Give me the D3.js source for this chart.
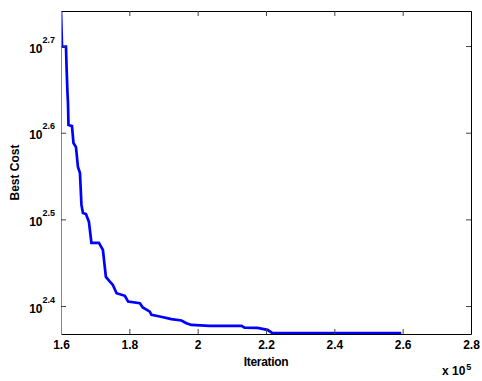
<!DOCTYPE html>
<html>
<head>
<meta charset="utf-8">
<script src="https://cdn.jsdelivr.net/npm/d3@7"></script>
<style>
  html, body { margin: 0; padding: 0; background: #fff; }
  svg { display: block; }
  text { font-family: "Liberation Sans", Arial, Helvetica, sans-serif; font-weight: bold; fill: #000; }
</style>
</head>
<body>
<svg id="chart" width="482" height="381"></svg>
<script>
// Best cost found so far, recorded against the iteration counter
const iterations = [
  160000, 160292, 161460, 161606, 161898, 162044, 162190, 163212, 163650, 164380,
  164964, 165548, 165986, 166423, 167299, 168175, 168905, 171095, 172263, 173139,
  174307, 175183, 176263, 178687, 179650, 183067, 183943, 185987, 186483, 188907,
  192323, 195243, 196703, 198163, 203507, 212850, 213726, 217522, 218982, 220442,
  221902, 259600
];
const bestCost = [
  550.0, 500.5, 500.5, 476.5, 442.4, 430.8, 406.3, 405.2, 387.3, 383.2,
  363.4, 357.7, 328.6, 321.7, 320.8, 314.1, 297.1, 297.1, 291.6, 271.4,
  268.0, 265.7, 259.9, 258.1, 254.2, 253.1, 250.2, 247.5, 245.4, 244.3,
  242.6, 241.7, 240.0, 238.9, 238.3, 238.3, 237.2, 237.0, 236.4, 235.8,
  233.7, 233.7
];

// Axis ranges and tick positions
const xDomain = [160000, 280000];
const yDomain = [233.2, 550.1];
const xTicks = [160000, 180000, 200000, 220000, 240000, 260000, 280000];
const xTickLabels = ["1.6", "1.8", "2", "2.2", "2.4", "2.6", "2.8"];
const yTickExponents = [2.4, 2.5, 2.6, 2.7];
const yTickLabels = ["2.4", "2.5", "2.6", "2.7"];

const xLabel = "Iteration";
const yLabel = "Best Cost";
const xScaleNote = "x 10";
const xScaleExp = "5";

const margin = { top: 11, right: 11, bottom: 47, left: 61 };
const W = 482, H = 381;
const pw = W - margin.left - margin.right;
const ph = H - margin.top - margin.bottom;

const svg = d3.select("#chart");

const x = d3.scaleLinear().domain(xDomain).range([margin.left, margin.left + pw]);
const y = d3.scaleLog().domain(yDomain).range([margin.top + ph, margin.top]);

const yTicks = yTickExponents.map(e => Math.pow(10, e));

// clip region for the curve
svg.append("defs").append("clipPath").attr("id", "plotClip")
  .append("rect")
  .attr("x", margin.left).attr("y", margin.top)
  .attr("width", pw).attr("height", ph);

// Cost curve
const line = d3.line()
  .x((d, i) => x(iterations[i]))
  .y(d => y(d));

svg.append("path")
  .datum(bestCost)
  .attr("clip-path", "url(#plotClip)")
  .attr("fill", "none")
  .attr("stroke", "#0000ff")
  .attr("stroke-width", 2.7)
  .attr("stroke-linejoin", "miter")
  .attr("d", line);

// Axes with inward ticks, mirrored on top and right
const tickLen = 5;

const gBottom = svg.append("g")
  .attr("transform", `translate(0,${margin.top + ph})`)
  .call(d3.axisBottom(x).tickValues(xTicks).tickSizeInner(-tickLen).tickSizeOuter(0)
    .tickPadding(7).tickFormat((d, i) => xTickLabels[i]));

const gTop = svg.append("g")
  .attr("transform", `translate(0,${margin.top})`)
  .call(d3.axisTop(x).tickValues(xTicks).tickSizeInner(-tickLen).tickSizeOuter(0)
    .tickFormat(() => ""));

const gLeft = svg.append("g")
  .attr("transform", `translate(${margin.left},0)`)
  .call(d3.axisLeft(y).tickValues(yTicks).tickSizeInner(-tickLen).tickSizeOuter(0)
    .tickFormat(() => ""));

const gRight = svg.append("g")
  .attr("transform", `translate(${margin.left + pw},0)`)
  .call(d3.axisRight(y).tickValues(yTicks).tickSizeInner(-tickLen).tickSizeOuter(0)
    .tickFormat(() => ""));

[gBottom, gTop, gLeft, gRight].forEach(g => {
  g.select(".domain").attr("stroke", "#000").attr("stroke-width", 1);
  g.selectAll(".tick line").attr("stroke", "#444").attr("stroke-width", 1);
  g.attr("font-family", null).attr("font-size", null);
});
gLeft.select(".domain").attr("stroke", "#888");

gBottom.selectAll(".tick text")
  .attr("font-size", 12)
  .attr("dy", null)
  .attr("y", 14.5);

// Log tick labels written as 10 with a raised exponent
gLeft.selectAll(".tick").each(function (d, i) {
  const t = d3.select(this).append("text")
    .attr("x", -6)
    .attr("y", 6)
    .attr("text-anchor", "end");
  t.append("tspan").attr("font-size", 12).text("10");
  t.append("tspan").attr("font-size", 9).attr("dy", -10).text(yTickLabels[i]);
});

// Axis titles
svg.append("text")
  .attr("x", margin.left + pw / 2)
  .attr("y", 366)
  .attr("text-anchor", "middle")
  .attr("font-size", 12)
  .attr("letter-spacing", -0.3)
  .text(xLabel);

svg.append("text")
  .attr("transform", `translate(18.5,${margin.top + ph / 2}) rotate(-90)`)
  .attr("text-anchor", "middle")
  .attr("font-size", 12)
  .text(yLabel);

// Multiplier for the iteration axis
const note = svg.append("text")
  .attr("x", 442)
  .attr("y", 374.5)
  .attr("font-size", 12);
note.append("tspan").text(xScaleNote);
note.append("tspan").attr("font-size", 9).attr("dy", -5).attr("dx", 1).text(xScaleExp);
</script>
</body>
</html>
